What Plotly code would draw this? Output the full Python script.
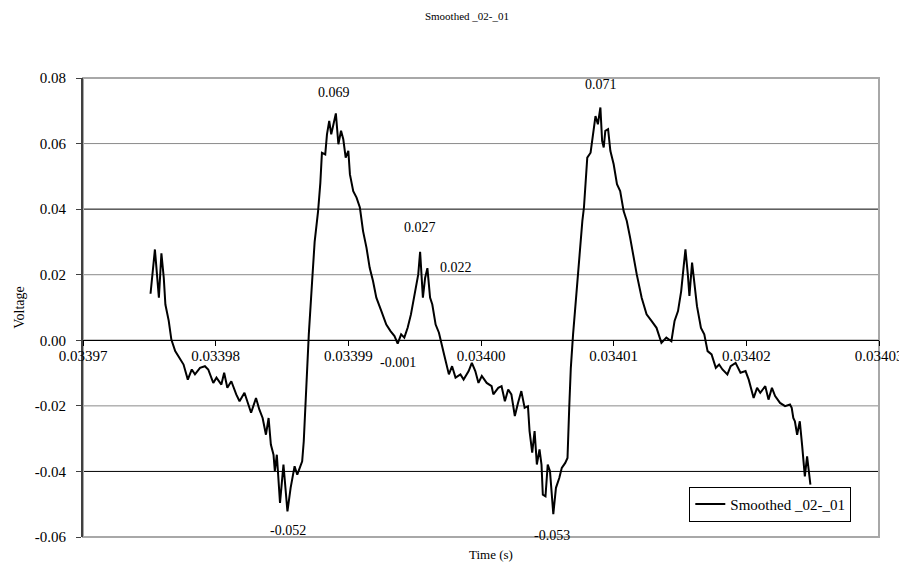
import plotly.graph_objects as go

# ---- data ----
T0 = 0.03397  # seconds, left edge of the time axis
time_offset_us = [
    5.09, 5.42, 5.72, 5.91, 6.09, 6.21, 6.46, 6.66, 6.95, 7.33,
    7.58, 7.90, 8.20, 8.44, 8.82, 9.19, 9.44, 9.82, 10.06, 10.43,
    10.64, 10.88, 11.18, 11.55, 11.80, 12.17, 12.54, 12.67, 13.04, 13.29,
    13.54, 13.79, 13.99, 14.16, 14.36, 14.46, 14.61, 14.85, 15.11, 15.41,
    15.65, 15.95, 16.15, 16.52, 16.64, 16.77, 16.94, 17.02, 17.27, 17.46,
    17.72, 17.89, 18.01, 18.26, 18.39, 18.56, 18.71, 18.88, 19.06, 19.25,
    19.45, 19.62, 19.80, 20.00, 20.12, 20.37, 20.62, 20.87, 21.11, 21.37,
    21.61, 21.86, 22.11, 22.49, 22.86, 23.18, 23.48, 23.72, 23.98, 24.22,
    24.47, 24.72, 24.97, 25.09, 25.27, 25.41, 25.62, 25.79, 25.96, 26.16,
    26.33, 26.58, 26.83, 27.20, 27.58, 27.82, 28.08, 28.45, 28.69, 29.07,
    29.31, 29.57, 29.81, 30.06, 30.43, 30.80, 30.93, 31.30, 31.55, 31.80,
    32.05, 32.29, 32.55, 32.79, 33.04, 33.29, 33.54, 33.66, 33.86, 34.04,
    34.21, 34.41, 34.56, 34.66, 34.86, 35.03, 35.20, 35.45, 35.65, 35.90,
    36.09, 36.35, 36.52, 36.65, 36.77, 36.94, 37.14, 37.39, 37.64, 37.76,
    37.88, 38.01, 38.26, 38.43, 38.63, 38.81, 39.00, 39.13, 39.25, 39.37,
    39.58, 39.75, 40.00, 40.25, 40.49, 40.75, 40.99, 41.24, 41.49, 41.74,
    42.11, 42.48, 42.85, 43.23, 43.60, 43.97, 44.35, 44.59, 44.85, 45.09,
    45.29, 45.41, 45.59, 45.71, 45.91, 46.08, 46.28, 46.58, 46.83, 47.08,
    47.38, 47.70, 47.95, 48.20, 48.57, 48.82, 49.19, 49.56, 49.94, 50.18,
    50.55, 50.81, 51.05, 51.43, 51.67, 51.93, 52.17, 52.54, 52.92, 53.29,
    53.42, 53.54, 53.66, 53.83, 54.03, 54.21, 54.41, 54.58, 54.78, 54.83,
]
voltage = [
    0.0142, 0.0277, 0.0130, 0.0265, 0.0190, 0.0109, 0.0060, 0.0002, -0.0033, -0.0059,
    -0.0074, -0.0120, -0.0089, -0.0104, -0.0084, -0.0079, -0.0089, -0.0130, -0.0114, -0.0135,
    -0.0099, -0.0145, -0.0125, -0.0165, -0.0186, -0.0160, -0.0201, -0.0221, -0.0176, -0.0211,
    -0.0237, -0.0288, -0.0237, -0.0318, -0.0349, -0.0399, -0.0349, -0.0496, -0.0379, -0.0522,
    -0.0450, -0.0384, -0.0410, -0.0369, -0.0308, -0.0196, -0.0043, 0.0018, 0.0180, 0.0300,
    0.0394, 0.0480, 0.0572, 0.0567, 0.0628, 0.0669, 0.0628, 0.0659, 0.0692, 0.0598,
    0.0639, 0.0613, 0.0557, 0.0578, 0.0506, 0.0455, 0.0435, 0.0405, 0.0333, 0.0282,
    0.0221, 0.0181, 0.0130, 0.0089, 0.0048, 0.0028, 0.0013, -0.0010, 0.0018, 0.0008,
    0.0038, 0.0079, 0.0130, 0.0160, 0.0201, 0.0270, 0.0130, 0.0191, 0.0220, 0.0130,
    0.0109, 0.0048, 0.0023, -0.0040, -0.0104, -0.0079, -0.0114, -0.0104, -0.0120, -0.0094,
    -0.0069, -0.0094, -0.0130, -0.0109, -0.0130, -0.0140, -0.0165, -0.0145, -0.0140, -0.0186,
    -0.0150, -0.0165, -0.0231, -0.0191, -0.0155, -0.0206, -0.0201, -0.0277, -0.0343, -0.0277,
    -0.0379, -0.0333, -0.0379, -0.0471, -0.0476, -0.0379, -0.0399, -0.0530, -0.0450, -0.0420,
    -0.0389, -0.0374, -0.0359, -0.0206, -0.0084, 0.0018, 0.0120, 0.0252, 0.0364, 0.0405,
    0.0476, 0.0557, 0.0572, 0.0628, 0.0684, 0.0659, 0.0710, 0.0608, 0.0588, 0.0639,
    0.0644, 0.0578, 0.0537, 0.0476, 0.0455, 0.0394, 0.0364, 0.0313, 0.0252, 0.0201,
    0.0130, 0.0079, 0.0059, 0.0038, -0.0008, 0.0008, -0.0003, 0.0059, 0.0089, 0.0150,
    0.0231, 0.0277, 0.0201, 0.0135, 0.0237, 0.0170, 0.0104, 0.0038, 0.0018, -0.0033,
    -0.0043, -0.0084, -0.0074, -0.0089, -0.0104, -0.0079, -0.0069, -0.0099, -0.0094, -0.0120,
    -0.0176, -0.0145, -0.0160, -0.0140, -0.0181, -0.0145, -0.0170, -0.0191, -0.0201, -0.0196,
    -0.0206, -0.0237, -0.0247, -0.0288, -0.0247, -0.0323, -0.0415, -0.0354, -0.0415, -0.0440,
]
time_s = [T0 + u * 1e-6 for u in time_offset_us]

# data labels: (point index, x shift px, y shift px)
label_points = [(58, -2, 21), (39, 1, -19), (85, 0, 24), (88, 29, 1),
                (77, 0, -19), (146, 1, 23), (127, -1, -21)]

x_ticks = [0.03397, 0.03398, 0.03399, 0.03400, 0.03401, 0.03402, 0.03403]
x_tick_text = ["0.03397", "0.03398", "0.03399", "0.03400", "0.03401", "0.03402", "0.03403"]
y_ticks = [-0.06, -0.04, -0.02, 0.0, 0.02, 0.04, 0.06, 0.08]
y_tick_text = ["-0.06", "-0.04", "-0.02", "0.00", "0.02", "0.04", "0.06", "0.08"]
grid_dark = [0.04, 0.0, -0.04]
grid_light = [0.06, 0.02, -0.02]

SERIES = "Smoothed _02-_01"
FONT = "Liberation Serif, Times New Roman, serif"

fig = go.Figure()
fig.add_trace(go.Scatter(x=time_s, y=voltage, mode="lines", name=SERIES,
                         line=dict(color="black", width=2)))

shapes = []
for g in grid_light:
    shapes.append(dict(type="line", xref="paper", x0=0, x1=1, yref="y", y0=g, y1=g,
                       line=dict(color="#8a8a8a", width=1), layer="below"))
for g in grid_dark:
    shapes.append(dict(type="line", xref="paper", x0=0, x1=1, yref="y", y0=g, y1=g,
                       line=dict(color="#000000", width=1), layer="below"))
shapes.append(dict(type="rect", xref="paper", yref="paper", x0=0, x1=1, y0=0, y1=1,
                   line=dict(color="#a8a8a8", width=2), layer="below"))

annotations = []
for idx, dx, dy in label_points:
    annotations.append(dict(x=time_s[idx], y=voltage[idx], xref="x", yref="y",
                            text=f"{voltage[idx]:.3f}", showarrow=False,
                            xshift=dx, yshift=dy,
                            font=dict(family=FONT, size=14, color="black")))
annotations.append(dict(text="Time (s)", xref="paper", yref="paper", x=0.512, y=-0.038,
                        yanchor="middle", showarrow=False,
                        font=dict(family=FONT, size=13, color="black")))
annotations.append(dict(text="Voltage", xref="paper", yref="paper", x=-0.080, y=0.5,
                        textangle=-90, showarrow=False, xanchor="center",
                        font=dict(family=FONT, size=14, color="black")))

fig.update_layout(
    width=907, height=568,
    margin=dict(l=75, r=27, t=70, b=39),
    paper_bgcolor="white", plot_bgcolor="white",
    font=dict(family=FONT, size=15, color="black"),
    title=dict(text=SERIES, x=0.506, xanchor="center", y=0.985, yanchor="middle",
               font=dict(family=FONT, size=11, color="black")),
    shapes=shapes,
    annotations=annotations,
    showlegend=True,
    legend=dict(x=0.9652, xanchor="right", y=0.033, yanchor="bottom",
                bordercolor="black", borderwidth=1, bgcolor="white",
                font=dict(family=FONT, size=15, color="black"),
                tracegroupgap=0, itemwidth=30),
    xaxis=dict(range=[0.03397, 0.03403], tickvals=x_ticks, ticktext=x_tick_text,
               anchor="free", position=6 / 14, showline=True, linecolor="black",
               linewidth=1, ticks="outside", ticklen=5, tickcolor="black",
               showgrid=False, zeroline=False, ticklabelstandoff=-3,
               tickfont=dict(family=FONT, size=15, color="black")),
    yaxis=dict(range=[-0.06, 0.08], tickvals=y_ticks, ticktext=y_tick_text,
               showline=True, linecolor="#404040", linewidth=2, ticks="outside",
               ticklen=5, tickcolor="#404040", showgrid=False, zeroline=False,
               ticklabelstandoff=7,
               tickfont=dict(family=FONT, size=15, color="black")),
)

fig.write_html("out.html")
